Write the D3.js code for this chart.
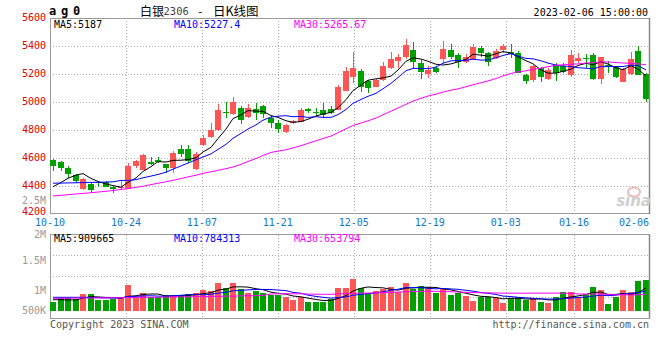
<!DOCTYPE html>
<html><head><meta charset="utf-8">
<script src="https://cdn.jsdelivr.net/npm/d3@7/dist/d3.min.js"></script>
<style>body{margin:0;background:#fff}svg{display:block}</style>
</head><body><svg id="c" width="660" height="360"></svg>
<script>
const dates = ["10-10","10-11","10-12","10-13","10-14","10-17","10-18","10-19","10-20","10-21",
"10-24","10-25","10-26","10-27","10-28","10-31","11-01","11-02","11-03","11-04",
"11-07","11-08","11-09","11-10","11-11","11-14","11-15","11-16","11-17","11-18",
"11-21","11-22","11-23","11-24","11-25","11-28","11-29","11-30","12-01","12-02",
"12-05","12-06","12-07","12-08","12-09","12-12","12-13","12-14","12-15","12-16",
"12-19","12-20","12-21","12-22","12-23","12-26","12-27","12-28","12-29","12-30",
"01-03","01-04","01-05","01-06","01-09","01-10","01-11","01-12","01-13","01-16",
"01-17","01-18","01-19","01-20","01-30","01-31","02-01","02-02","02-03","02-06"];
const open = [4586,4574,4531,4479,4379,4416,4432,4432,4392,4385,4381,4545,4514,4571,4584,4555,4526,4664,4664,4519,
4693,4752,4800,4931,4914,4955,4891,4950,4971,4884,4852,4788,4848,4860,4950,4931,4943,4950,4943,5081,
5181,5221,5150,5110,5157,5245,5295,5324,5371,5276,5198,5245,5307,5371,5336,5288,5307,5383,5348,5312,
5371,5355,5348,5193,5157,5240,5164,5264,5257,5193,5293,5312,5336,5164,5262,5248,5145,5200,5364,5198];
const high = [4590,4578,4545,4483,4457,4431,4435,4436,4405,4443,4567,4585,4630,4605,4605,4560,4650,4693,4693,4645,
4764,4848,4986,5002,5038,4971,4986,4995,4979,4900,4871,4840,4874,4955,4955,4955,4995,4971,5121,5252,
5359,5236,5155,5167,5286,5359,5343,5448,5431,5300,5257,5257,5436,5414,5348,5340,5412,5402,5359,5376,
5414,5414,5362,5198,5262,5252,5245,5276,5276,5371,5348,5343,5352,5324,5290,5257,5245,5357,5402,5205];
const low = [4509,4509,4459,4424,4375,4352,4394,4390,4352,4375,4378,4530,4512,4550,4562,4495,4495,4605,4567,4515,
4686,4741,4795,4888,4907,4843,4888,4871,4884,4817,4781,4781,4843,4857,4924,4900,4884,4914,4940,5076,
5133,5074,5067,5105,5150,5233,5240,5307,5245,5164,5174,5205,5281,5307,5240,5276,5300,5324,5257,5305,
5348,5312,5205,5126,5143,5145,5160,5152,5205,5181,5276,5245,5160,5126,5205,5174,5140,5195,5190,5002];
const close = [4543,4526,4486,4438,4450,4369,4420,4395,4380,4392,4543,4577,4624,4557,4571,4526,4638,4629,4581,4629,
4741,4800,4943,4921,5002,4871,4955,4924,4914,4852,4805,4836,4867,4943,4933,4921,4907,4924,5110,5221,
5245,5105,5098,5157,5257,5307,5324,5407,5283,5212,5229,5217,5379,5324,5283,5324,5395,5348,5288,5367,
5402,5343,5210,5152,5257,5181,5231,5210,5217,5336,5312,5305,5164,5319,5255,5181,5236,5307,5193,5021];
const volume = [360000,496000,520000,468000,668000,668000,428000,428000,456000,536000,
1028000,536000,696000,536000,536000,628000,588000,628000,668000,696000,
828000,788000,1120000,896000,1120000,856000,720000,800000,696000,628000,
628000,560000,428000,536000,360000,360000,360000,456000,920000,920000,
1268000,920000,720000,800000,868000,960000,760000,1120000,856000,988000,
960000,720000,856000,628000,696000,588000,400000,560000,560000,520000,
320000,520000,560000,428000,496000,360000,320000,560000,760000,748000,
560000,628000,960000,828000,280000,560000,828000,740000,1188000,1228000];
// MA values before enough history is on screen
const ma5Head = [4395,4425,4455,4478];
const ma10Head = [4420,4421,4422,4423,4424,4426,4427,4428,4430];
const ma30Head = [4329,4333,4338,4343,4347,4352,4357,4362,4368,4375,4382,4390,4398,4410,4420,4430,4441,4453,4465,4477,4490,4502,4512,4524,4536,4555,4575,4596,4618];
const vma5Head = [440000,440000,430000,430000];
const vma10Head = [536000,536000,536000,536000,536000,530000,520000,510000,505000];
const vma30Head = [496000,498000,500000,503000,506000,509000,512000,515000,518000,521000,525000,529000,533000,537000,541000,545000,549000,553000,557000,561000,566000,571000,576000,581000,586000,591000,596000,601000,606000];
const priceTicks = [5600,5400,5200,5000,4800,4600,4400,4200];
const dateTicks = ["10-10","10-24","11-07","11-21","12-05","12-19","01-03","01-16","02-06"];
const volTickLabels = ["2M","1.5M","1M","500K"];
const headerMain = ["MA5:5187","MA10:5227.4","MA30:5265.67"];
const headerVol = ["MA5:909665","MA10:784313","MA30:653794"];

const N = dates.length;
const L = 50, R = 650, mTop = 18, mBot = 214, vTop = 234.5, vBot = 318, vBase = 310.7;
const RED = "#ff5555", GREEN = "#00a000";
const MONO = "'DejaVu Sans Mono', monospace";
const CJK = "'Noto Sans CJK SC', sans-serif";
const maColors = ["#000000", "#0000ff", "#ff00ff"];

const svg = d3.select("#c");
const xb = d3.scaleBand().domain(d3.range(N)).range([L, R]);
const xg = d3.scaleLinear().domain([0, N - 1]).range([L, R]);
const y = d3.scaleLinear().domain([4200, 5600]).range([mBot, mTop]);
const yv = d3.scaleLinear().domain([0, 1000000]).range([vBase, vBase - 25]);

function rolling(vals, n, head) {
  return vals.map((v, i) => i >= n - 1 ? d3.mean(vals.slice(i - n + 1, i + 1)) : head[i]);
}
const px = v => Math.round(v) + 0.5;

// grid
const grid = svg.append("g").attr("stroke", "#a8a8a8").attr("stroke-dasharray", "1,2").attr("shape-rendering", "crispEdges");
priceTicks.slice(1, -1).forEach(t => grid.append("line").attr("x1", L).attr("x2", R).attr("y1", px(y(t))).attr("y2", px(y(t))));
[1, 2, 3].forEach(k => { const yy = px(vTop + (vBot - vTop) * k / 4); grid.append("line").attr("x1", L).attr("x2", R).attr("y1", yy).attr("y2", yy); });
dateTicks.slice(1, -1).forEach(d => {
  const xx = px(xg(dates.indexOf(d)));
  grid.append("line").attr("x1", xx).attr("x2", xx).attr("y1", mTop).attr("y2", mBot);
  grid.append("line").attr("x1", xx).attr("x2", xx).attr("y1", vTop).attr("y2", vBot);
});

// frames
const fr = svg.append("g").attr("fill", "none").attr("stroke", "#999").attr("shape-rendering", "crispEdges");
fr.append("rect").attr("x", L + 0.5).attr("y", mTop + 0.5).attr("width", R - L - 1).attr("height", mBot - mTop - 1);
fr.append("rect").attr("x", L + 0.5).attr("y", vTop).attr("width", R - L - 1).attr("height", vBot - vTop);

// candles and volume bars
const up = i => close[i] >= open[i];
const cg = svg.append("g").attr("shape-rendering", "crispEdges");
d3.range(N).forEach(i => {
  const c = up(i) ? RED : GREEN;
  const x0 = Math.round(xb(i));
  cg.append("line").attr("x1", x0 + 3.5).attr("x2", x0 + 3.5).attr("y1", y(high[i])).attr("y2", y(low[i])).attr("stroke", c);
  const top = y(Math.max(open[i], close[i])), bot = y(Math.min(open[i], close[i]));
  cg.append("rect").attr("x", x0).attr("y", top).attr("width", 6).attr("height", Math.max(1, bot - top)).attr("fill", c);
  const vt = yv(volume[i]);
  cg.append("rect").attr("x", x0).attr("y", vt).attr("width", 6).attr("height", vBase - vt).attr("fill", c);
});

// MA lines
const cx = i => Math.round(xb(i)) + 3;
const lineP = d3.line().x((d, i) => cx(i)).y(d => y(d));
const lineV = d3.line().x((d, i) => cx(i)).y(d => yv(d));
[rolling(close, 5, ma5Head), rolling(close, 10, ma10Head), rolling(close, 30, ma30Head)].forEach((s, k) =>
  svg.append("path").attr("d", lineP(s)).attr("fill", "none").attr("stroke", maColors[k]).attr("stroke-width", 1));
[rolling(volume, 5, vma5Head), rolling(volume, 10, vma10Head), rolling(volume, 30, vma30Head)].forEach((s, k) =>
  svg.append("path").attr("d", lineV(s)).attr("fill", "none").attr("stroke", maColors[k]).attr("stroke-width", 1));

// right border darker
svg.append("line").attr("x1", R - 0.5).attr("x2", R - 0.5).attr("y1", mTop).attr("y2", mBot).attr("stroke", "#888").attr("stroke-width", 1.5);
svg.append("line").attr("x1", R - 0.5).attr("x2", R - 0.5).attr("y1", vTop).attr("y2", vBot).attr("stroke", "#888").attr("stroke-width", 1.5);

// watermark
const wm = svg.append("g");
wm.append("ellipse").attr("cx", 634).attr("cy", 192).attr("rx", 6).attr("ry", 4.5).attr("fill", "none").attr("stroke", "#f2b8b8").attr("stroke-width", 2);
wm.append("text").attr("x", 651).attr("y", 206).attr("text-anchor", "end").attr("font-family", "'DejaVu Sans', sans-serif")
  .attr("font-size", 15).attr("font-weight", "bold").attr("font-style", "italic").attr("fill", "#cfcfcf").text("sina");

// text helpers
function txt(x, yb, s, o = {}) {
  return svg.append("text").attr("x", x).attr("y", yb).attr("font-family", o.ff || MONO).attr("font-size", o.fs || 10)
    .attr("fill", o.fill || "#000").attr("text-anchor", o.anchor || "start").attr("font-weight", o.fw || "normal")
    .attr("letter-spacing", o.ls || 0).text(s);
}
// price axis labels (lowest one nudged up so it clears the date row)
priceTicks.forEach((t, k) => txt(46, y(t) + (k === priceTicks.length - 1 ? 0.5 : 2.6), String(t), { anchor: "end", fill: "#e00000" }));
txt(46, 204.3, "2.5M", { anchor: "end", fill: "#999" });
// date labels
dateTicks.forEach((d, k) => {
  const xx = xg(dates.indexOf(d));
  const last = k === dateTicks.length - 1;
  txt(last ? R - 1 : xx, 226.3, d, { anchor: last ? "end" : "middle", fill: "#1177cc" });
});
// volume labels
const volLabelY = [237.8, 264.3, 294.3, 313.6];
volTickLabels.forEach((s, k) => txt(46, volLabelY[k], s, { anchor: "end", fill: "#999" }));

// headers
txt(49, 15, "ag0", { fs: 12, fw: "bold", ls: 4.8 });
txt(140, 15.5, "白银", { ff: CJK, fs: 12 });
txt(163.5, 15, "2306", { fs: 10.5, fill: "#444" });
txt(197, 15, "-", { fs: 11 });
txt(213, 15.5, "日K线图", { ff: CJK, fs: 12.5 });
txt(648, 16, "2023-02-06 15:00:00", { anchor: "end" });
const hx = [54, 174, 294];
headerMain.forEach((s, k) => txt(hx[k], 27.6, s, { fill: maColors[k] }));
headerVol.forEach((s, k) => txt(hx[k], 242, s, { fill: maColors[k] }));
txt(50, 327.6, "Copyright 2023 SINA.COM", { fill: "#555" });
txt(649, 327.6, "http://finance.sina.com.cn", { anchor: "end", fill: "#555" });
</script></body></html>
